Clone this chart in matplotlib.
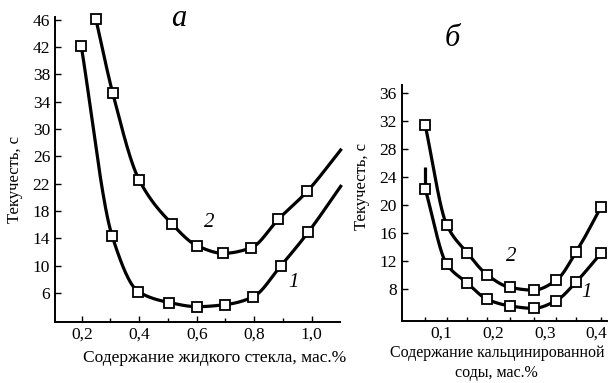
import numpy as np
import matplotlib
matplotlib.use("Agg")
import matplotlib.pyplot as plt
from matplotlib.ticker import FixedLocator

# ---- data: panel a (liquid glass) ----
xa1 = [0.198, 0.306, 0.397, 0.505, 0.602, 0.700, 0.795, 0.893, 0.988]
ya1 = [42.2, 14.3, 6.2, 4.6, 4.0, 4.3, 5.4, 10.0, 14.9]
xa1_end, ya1_end = 1.104, 21.8
xa2 = [0.249, 0.308, 0.399, 0.514, 0.602, 0.693, 0.789, 0.884, 0.985]
ya2 = [46.1, 35.2, 22.6, 16.1, 12.9, 11.8, 12.6, 16.8, 20.9]
xa2_end, ya2_end = 1.104, 27.1

# ---- data: panel b (soda ash) ----
xb = [0.068, 0.110, 0.150, 0.188, 0.232, 0.278, 0.322, 0.361, 0.409]
yb1 = [22.3, 11.5, 8.8, 6.5, 5.55, 5.2, 6.3, 9.0, 13.1]
yb1_start = 25.4
yb2 = [31.4, 17.1, 13.1, 10.0, 8.2, 7.8, 9.2, 13.3, 19.7]

ticks_a_x = [0.2, 0.4, 0.6, 0.8, 1.0]
ticks_a_y = [6, 10, 14, 18, 22, 26, 30, 34, 38, 42, 46]
ticks_b_x = [0.1, 0.2, 0.3, 0.4]
ticks_b_y = [8, 12, 16, 20, 24, 28, 32, 36]

plt.rcParams['font.family'] = ['Liberation Serif', 'DejaVu Serif']


def pchip(x, y, n=300):
    x = np.asarray(x, float); y = np.asarray(y, float)
    h = np.diff(x); d = np.diff(y) / h
    m = np.zeros_like(y)
    for k in range(1, len(x) - 1):
        if d[k - 1] * d[k] > 0:
            w1 = 2 * h[k] + h[k - 1]; w2 = h[k] + 2 * h[k - 1]
            m[k] = (w1 + w2) / (w1 / d[k - 1] + w2 / d[k])
    m[0] = d[0]; m[-1] = d[-1]
    xs = np.linspace(x[0], x[-1], n)
    idx = np.clip(np.searchsorted(x, xs) - 1, 0, len(x) - 2)
    t = (xs - x[idx]) / h[idx]
    h00 = 2*t**3 - 3*t**2 + 1; h10 = t**3 - 2*t**2 + t
    h01 = -2*t**3 + 3*t**2; h11 = t**3 - t**2
    ys = h00*y[idx] + h10*h[idx]*m[idx] + h01*y[idx+1] + h11*h[idx]*m[idx+1]
    return xs, ys


fig = plt.figure(figsize=(6.08, 3.83), dpi=100)
axA = fig.add_axes([0.0905, 0.160, 0.4685, 0.796])
axB = fig.add_axes([0.6607, 0.162, 0.3373, 0.616])

lw = 2.3
mk = dict(marker='s', ms=7, mfc='white', mec='black', mew=1.3, ls='none', clip_on=False, zorder=3)

for ax in (axA, axB):
    for s in ('top', 'right'):
        ax.spines[s].set_visible(False)
    for s in ('left', 'bottom'):
        ax.spines[s].set_linewidth(1.4)
    ax.tick_params(direction='in', which='both', labelsize=12.5, width=1.0)
    ax.tick_params(which='major', length=4)
    ax.tick_params(which='minor', length=3)

# panel a
for xs_, ys_, xe, ye in ((xa1, ya1, xa1_end, ya1_end), (xa2, ya2, xa2_end, ya2_end)):
    sx, sy = pchip(xs_ + [xe], ys_ + [ye])
    axA.plot(sx, sy, color='black', lw=lw, clip_on=False, solid_capstyle='butt')
    axA.plot(xs_, ys_, **mk)
axA.set_xlim(0.107, 1.098)
axA.set_ylim(1.8, 46.4)
axA.set_xticks(ticks_a_x)
axA.set_xticklabels([f"{v:.1f}".replace('.', ',') for v in ticks_a_x])
axA.xaxis.set_minor_locator(FixedLocator([0.3, 0.5, 0.7, 0.9, 1.1]))
axA.set_yticks(ticks_a_y)
axA.set_xlabel("Содержание жидкого стекла, мас.%", fontsize=12.5)
axA.xaxis.set_label_coords(0.561, -0.119)
axA.xaxis.label.set_va('center')
axA.set_ylabel("Текучесть, с", fontsize=12)
axA.yaxis.set_label_coords(-0.14, 0.465)
axA.yaxis.label.set_va('center')
axA.text(0.645, 16.3, "2", fontsize=15, style='italic', ha='center', va='center')
axA.text(0.935, 7.6, "1", fontsize=15, style='italic', ha='center', va='center')

# panel b
sx, sy = pchip(xb, yb1)
axB.plot([xb[0], xb[0]], [yb1_start, yb1[0]], color='black', lw=lw, solid_capstyle='butt')
axB.plot(sx, sy, color='black', lw=lw, clip_on=False)
axB.plot(xb, yb1, **mk)
sx, sy = pchip(xb, yb2)
axB.plot(sx, sy, color='black', lw=lw, clip_on=False)
axB.plot(xb, yb2, **mk)
axB.set_xlim(0.0226, 0.42)
axB.set_ylim(3.4, 37.1)
axB.set_xticks(ticks_b_x)
axB.set_xticklabels([f"{v:.1f}".replace('.', ',') for v in ticks_b_x])
axB.tick_params(axis='x', which='major', length=0)
axB.xaxis.set_minor_locator(FixedLocator(xb))
axB.set_yticks(ticks_b_y)
axB.set_xlabel("Содержание кальцинированной\nсоды, мас.%", fontsize=11.5, linespacing=1.35)
axB.xaxis.set_label_coords(0.464, -0.177)
axB.xaxis.label.set_va('center')
axB.set_ylabel("Текучесть, с", fontsize=12)
axB.yaxis.set_label_coords(-0.193, 0.568)
axB.yaxis.label.set_va('center')
axB.text(0.2355, 12.6, "2", fontsize=15, style='italic', ha='center', va='center')
axB.text(0.381, 7.4, "1", fontsize=15, style='italic', ha='center', va='center')

fig.text(179 / 608, 1 - 19 / 383, "а", fontsize=22, style='italic', ha='center', va='center')
fig.text(452 / 608, 1 - 38 / 383, "б", fontsize=22, style='italic', ha='center', va='center')

fig.savefig("out.png", dpi=100)
